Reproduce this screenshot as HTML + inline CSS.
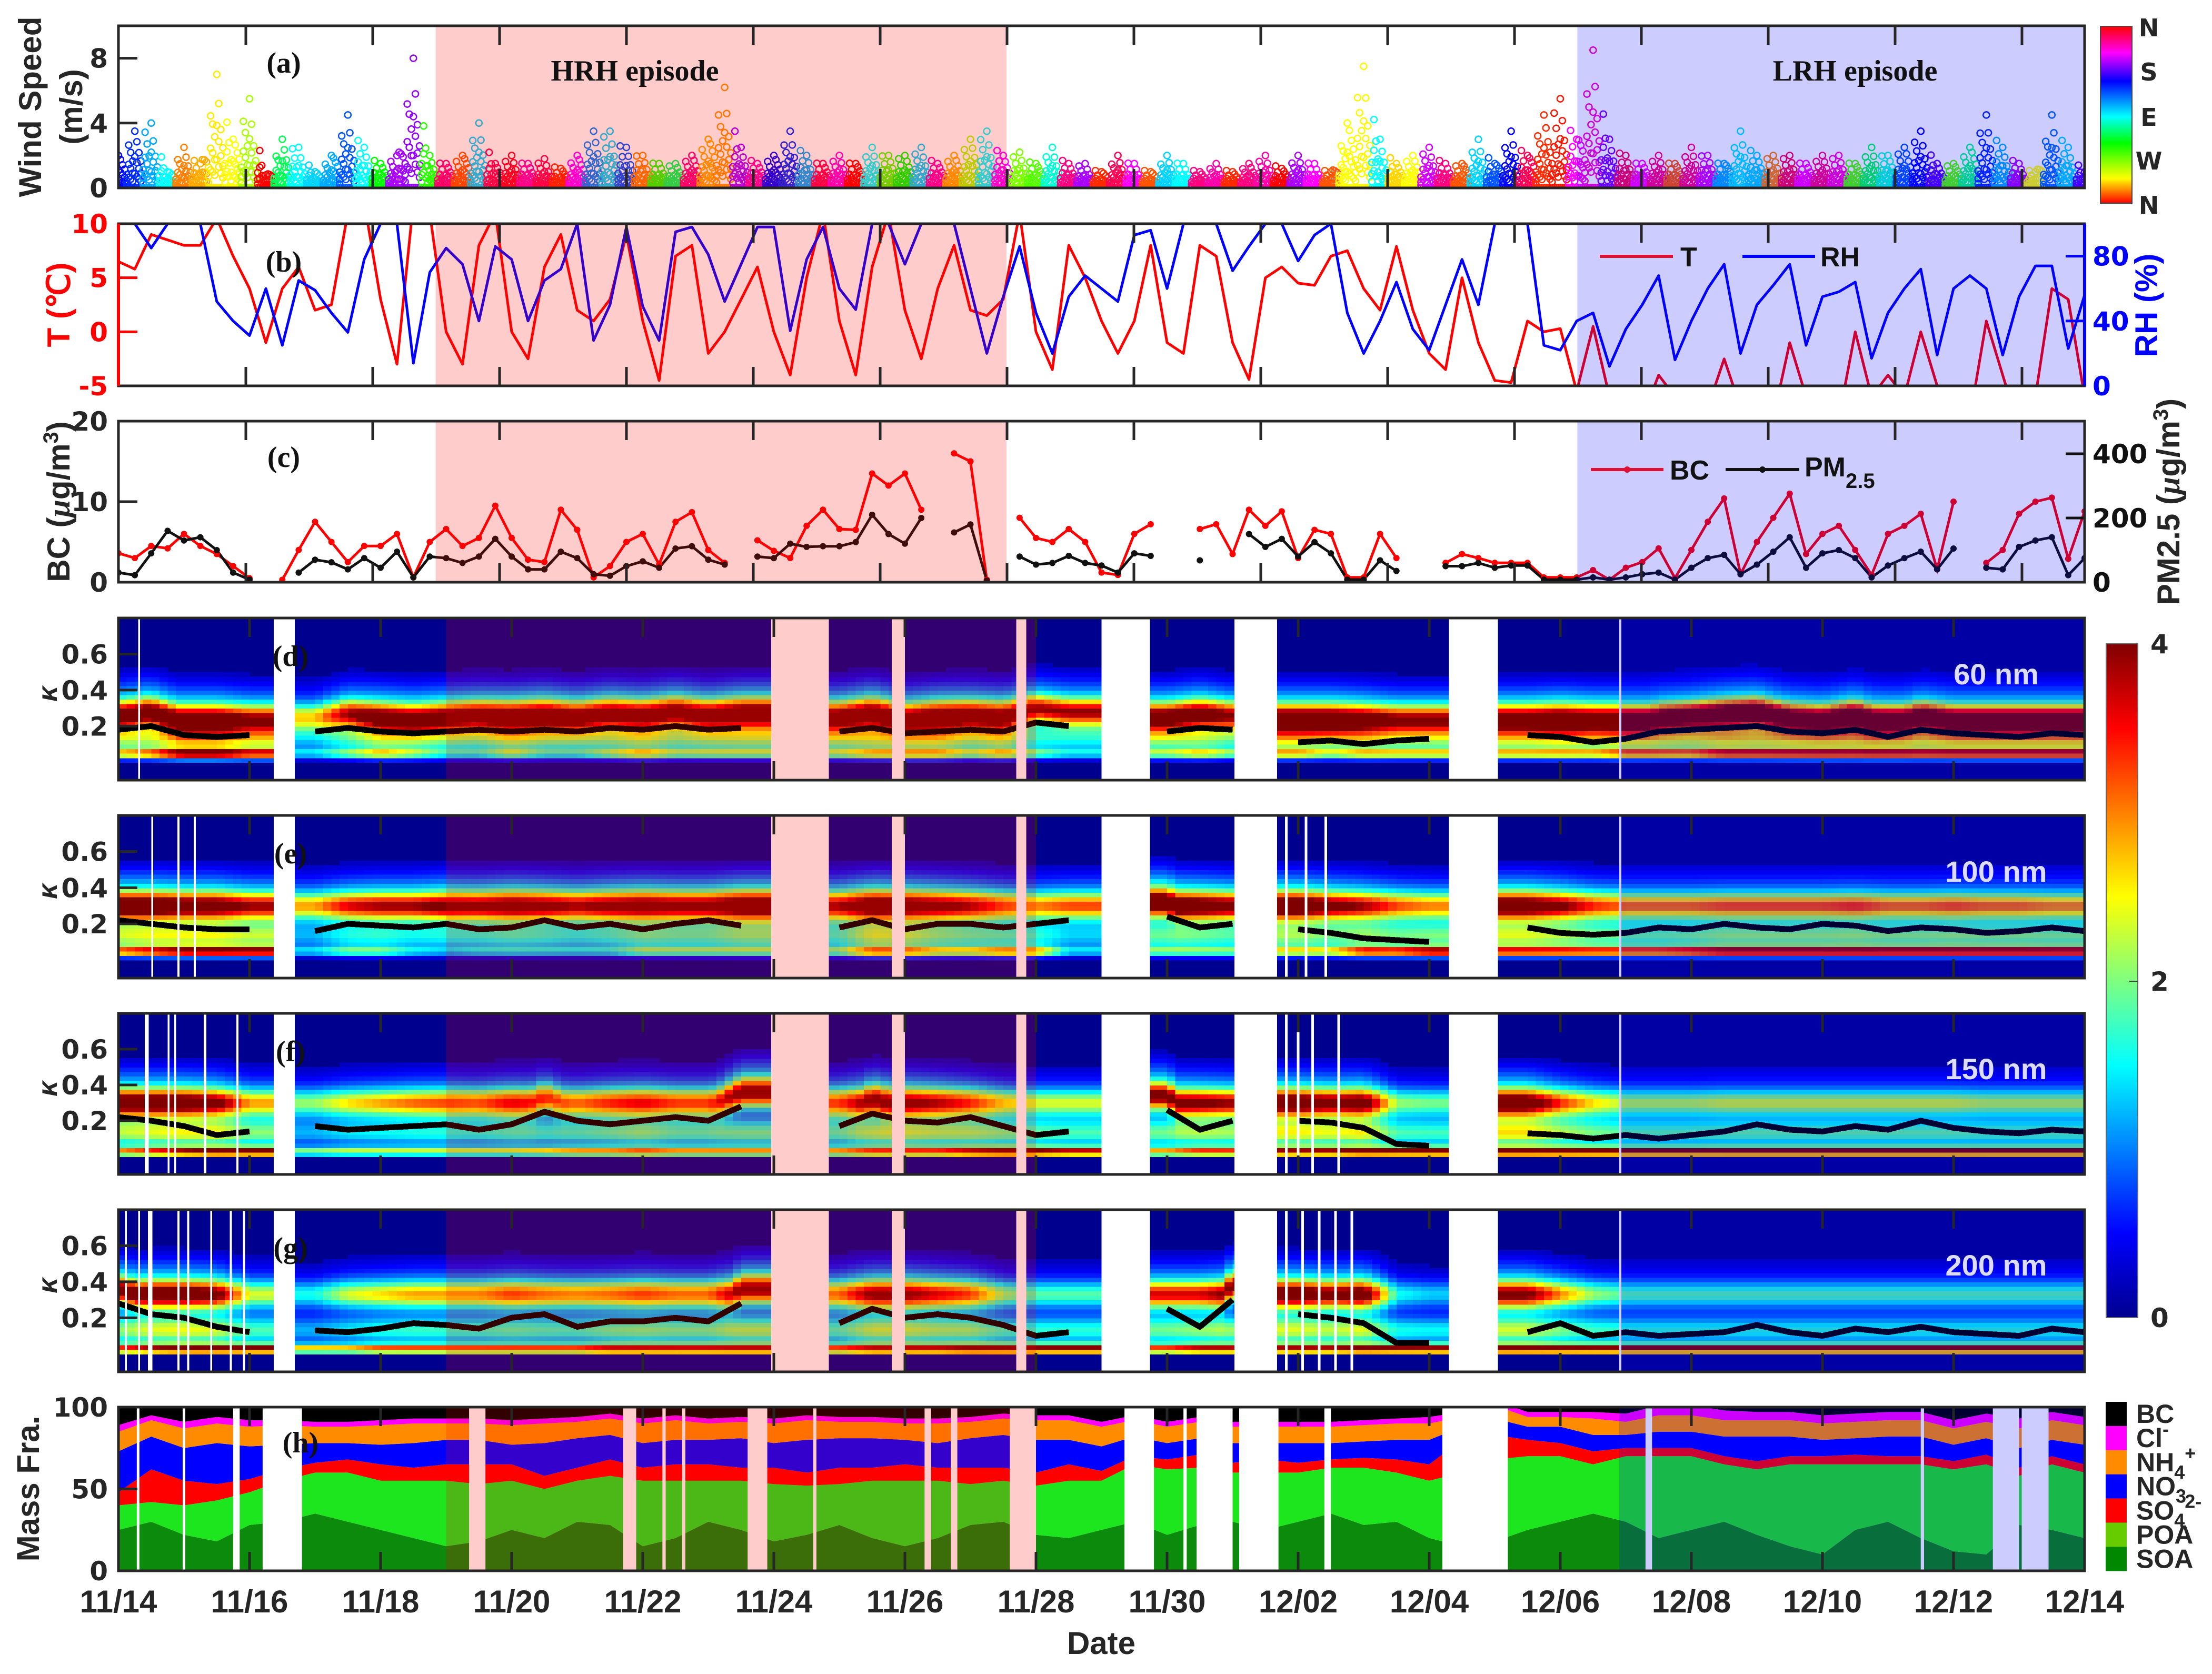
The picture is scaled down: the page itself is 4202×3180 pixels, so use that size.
<!DOCTYPE html>
<html><head><meta charset="utf-8">
<style>
html,body{margin:0;padding:0;background:#fff;}
svg{display:block;}
text{font-family:"Liberation Sans",Arial,sans-serif;font-weight:bold;}
.tk{font-size:50px;fill:#262626;}
.dj{font-family:"DejaVu Sans","Liberation Sans",sans-serif;font-weight:bold;}
.pl{font-family:"Liberation Serif",serif;font-weight:bold;font-size:56px;fill:#111;}
</style></head>
<body>
<svg id="fig" xmlns="http://www.w3.org/2000/svg" width="4202" height="3180" viewBox="0 0 4202 3180">
<defs>
<linearGradient id="gWind" x1="0" y1="0" x2="0" y2="1">
<stop offset="0" stop-color="#ff0000"/><stop offset="0.15" stop-color="#ff00ff"/><stop offset="0.31" stop-color="#0000ff"/><stop offset="0.51" stop-color="#00ffff"/><stop offset="0.66" stop-color="#00ff00"/><stop offset="0.86" stop-color="#ffff00"/><stop offset="1" stop-color="#ff0000"/>
</linearGradient>
<linearGradient id="gJet" x1="0" y1="1" x2="0" y2="0">
<stop offset="0" stop-color="#00008f"/><stop offset="0.125" stop-color="#0000ff"/><stop offset="0.375" stop-color="#00ffff"/><stop offset="0.625" stop-color="#ffff00"/><stop offset="0.875" stop-color="#ff0000"/><stop offset="1" stop-color="#800000"/>
</linearGradient>
</defs>
<g id="data"></g>
<g id="over"></g>
<g id="axes"></g>

<text transform="translate(78,203) rotate(-90)" text-anchor="middle" font-size="60" fill="#262626">Wind Speed</text>
<text transform="translate(156,203) rotate(-90)" text-anchor="middle" font-size="60" fill="#262626">(m/s)</text>
<text transform="translate(132,579) rotate(-90)" text-anchor="middle" font-size="60" fill="#ff0000">T (℃)</text>
<text transform="translate(132,953) rotate(-90)" text-anchor="middle" font-size="60" fill="#262626">BC (<tspan font-style="italic" font-family="Liberation Serif">μ</tspan>g/m<tspan dy="-22" font-size="40">3</tspan><tspan dy="22">)</tspan></text>
<text transform="translate(4098,580) rotate(-90)" text-anchor="middle" font-size="60" fill="#0000ff">RH (%)</text>
<text transform="translate(4140,953) rotate(-90)" text-anchor="middle" font-size="60" fill="#262626">PM2.5 (<tspan font-style="italic" font-family="Liberation Serif">μ</tspan>g/m<tspan dy="-22" font-size="40">3</tspan><tspan dy="22">)</tspan></text>
<text transform="translate(108,1318) rotate(-90)" text-anchor="middle" font-size="52" font-family="Liberation Serif" font-style="italic" font-weight="normal" fill="#262626">κ</text>
<text transform="translate(108,1693) rotate(-90)" text-anchor="middle" font-size="52" font-family="Liberation Serif" font-style="italic" font-weight="normal" fill="#262626">κ</text>
<text transform="translate(108,2068) rotate(-90)" text-anchor="middle" font-size="52" font-family="Liberation Serif" font-style="italic" font-weight="normal" fill="#262626">κ</text>
<text transform="translate(108,2442) rotate(-90)" text-anchor="middle" font-size="52" font-family="Liberation Serif" font-style="italic" font-weight="normal" fill="#262626">κ</text>
<text transform="translate(74,2828) rotate(-90)" text-anchor="middle" font-size="60" fill="#262626">Mass Fra.</text>
<text x="2092" y="3142" text-anchor="middle" font-size="60" fill="#262626">Date</text>

<text class="pl" x="539" y="138" text-anchor="middle">(a)</text>
<text class="pl" x="539" y="516" text-anchor="middle">(b)</text>
<text class="pl" x="539" y="887" text-anchor="middle">(c)</text>
<text class="pl" x="552" y="1265" text-anchor="middle">(d)</text>
<text class="pl" x="552" y="1640" text-anchor="middle">(e)</text>
<text class="pl" x="552" y="2016" text-anchor="middle">(f)</text>
<text class="pl" x="552" y="2389" text-anchor="middle">(g)</text>
<text class="pl" x="571" y="2759" text-anchor="middle">(h)</text>
<text class="pl" x="1206" y="153" text-anchor="middle">HRH episode</text>
<text class="pl" x="3524" y="153" text-anchor="middle">LRH episode</text>
<text x="3792" y="1300" text-anchor="middle" font-size="56" fill="#dcdcff">60 nm</text>
<text x="3792" y="1675" text-anchor="middle" font-size="56" fill="#dcdcff">100 nm</text>
<text x="3792" y="2050" text-anchor="middle" font-size="56" fill="#dcdcff">150 nm</text>
<text x="3792" y="2423" text-anchor="middle" font-size="56" fill="#dcdcff">200 nm</text>

<g>
<line x1="3039" y1="487" x2="3178" y2="487" stroke="#dd1133" stroke-width="6"/>
<text x="3192" y="506" font-size="52" fill="#111">T</text>
<line x1="3310" y1="487" x2="3448" y2="487" stroke="#0000ff" stroke-width="6"/>
<text x="3458" y="506" font-size="52" fill="#111">RH</text>
</g>
<g>
<line x1="3022" y1="892" x2="3160" y2="892" stroke="#dd1133" stroke-width="6"/>
<circle cx="3091" cy="892" r="6" fill="#dd1133"/>
<text x="3172" y="911" font-size="52" fill="#111">BC</text>
<line x1="3278" y1="892" x2="3418" y2="892" stroke="#111" stroke-width="6"/>
<circle cx="3348" cy="892" r="6" fill="#111"/>
<text x="3428" y="905" font-size="52" fill="#111">PM<tspan dy="22" font-size="40">2.5</tspan></text>
</g>

<rect x="3990" y="50" width="60" height="336" fill="url(#gWind)" stroke="#444" stroke-width="2"/>
<g font-size="46" class="dj" fill="#262626" text-anchor="middle">
<text class="dj" x="4082" y="69">N</text>
<text class="dj" x="4082" y="153">S</text>
<text class="dj" x="4082" y="239">E</text>
<text class="dj" x="4082" y="322">W</text>
<text class="dj" x="4082" y="406">N</text>
</g>

<rect x="4001" y="1223" width="60" height="1280" fill="url(#gJet)" stroke="#666" stroke-width="2"/>
<line x1="4045" y1="1864" x2="4061" y2="1864" stroke="#444" stroke-width="2"/>
<text class="dj" x="4085" y="1241" font-size="50" fill="#262626">4</text>
<text class="dj" x="4085" y="1882" font-size="50" fill="#262626">2</text>
<text class="dj" x="4085" y="2521" font-size="50" fill="#262626">0</text>

<g id="hleg"></g>
</svg>

<script>
const windSpeed = [2,3.5,4,1,2.5,1.5,7,3,5.5,0.8, 3,2.5,1,2,4.5,2.5,1.5,2,8,2, 1.5,2,4,1.5,2,1.5,1.8,1.2,2,3.5, 3.5,2.5,2,1.5,1.5,2,3,6.2,2.5,1.5, 2,3.5,2,1.5,2,1.5,2.5,2,2,2.5, 1.5,2,3,3.5,2,2.2,1.5,2.5,1.5,1.5, 1,2,1.5,1,2,1.5,1,1.5,1,1.5, 2,1.2,2,1.5,1,4,7.5,3,1.5,2, 2.5,1.5,1.5,3,1.5,3.5,2,4.5,5.5,3, 8.5,3,2,1.5,2,1.5,2.5,2,1.5,3.5, 2,2,2,1.5,2,2,1.5,2.5,2,2.5, 3.5,1.5,1.5,2.5,4.5,2.5,1.5,1,4.5,2.5, 1];
const windDir = [240,230,200,180,30,40,55,60,80,0, 140,180,190,200,220,180,120,280,275,110, 330,20,190,340,350,320,340,10,300,210, 190,220,30,110,140,330,40,35,280,320, 240,230,200,340,310,0,180,100,120,190, 320,40,80,180,300,90,100,170,330,280, 10,340,300,20,190,180,330,320,10,330, 320,0,280,300,20,60,58,180,50,60, 290,330,20,190,220,240,340,10,5,300, 310,270,340,300,330,20,330,290,200,185, 190,30,340,300,330,310,100,140,170,220, 240,260,100,150,230,200,280,60,215,190, 260];
const tempC = [6.5,5.8,9,8.5,8,8,10.5,7,4,-1, 4,6,2,2.5,11,12,3,-3,12,11, 0,-3,8,11,0,-2.5,6,9,2,1, 3,9,1,-4.5,7,8,-2,0,3,6, 0,-4,5,11,1,-4,6,11,2,-2.5, 4,8,2,1.5,3,11,0,-3.5,8,5, 1,-2,1,8,-1,-2,8,7,-1,-4.4, 5,6,4.5,4.3,7,7.5,4,2,7.9,2, -2,-3.5,5,-1,-4.5,-4.7,1,0,0.3,-5.5, 0.5,-6,-8,-8,-4,-6,-8,-7,-2.5,-7, -9,-8,-1,-6,-9,-8,0,-6,-4,-6, 0,-5,-9,-8,1,-4,-9,-6,4,3, -6];
const relHum = [100,100,85,100,100,100,52,40,31,60, 25,65,59,45,33,78,100,100,14,70, 85,75,40,86,78,40,65,72,100,28, 50,98,49,28,95,98,81,52,75,98, 98,34,78,98,60,47,100,100,75,100, 100,100,60,20,55,86,45,20,55,68, 60,52,93,96,60,100,100,100,71,86, 100,100,77,93,100,45,20,40,64,35, 22,50,78,50,100,100,100,25,22,40, 45,12,35,50,68,16,40,60,75,20, 50,62,75,25,55,58,64,17,45,60, 72,19,60,68,60,19,55,74,74,23, 56];
const bcConc = [3.6,3,4.5,4.2,6,4.5,3.5,2,0.5,null, 0.3,4,7.5,5,2.5,4.5,4.5,6,0.6,5, 6.6,4.5,5.5,9.5,5.5,2.8,2.5,9,6.5,0.6, 2,5,6,2.2,7.5,8.7,4,2.4,null,5.2, 3.9,3,7,9,6.6,6.5,13.5,12,13.5,9, null,16,15,0.3,null,8,5.5,5,6.6,5, 1.2,0.9,6,7.2,null,null,6.6,7.2,3.5,9, 7,8.8,3,6.5,6,0.6,0.6,6,3,null, null,2.4,3.5,3,2.4,2.4,2.4,0.6,0.6,0.6, 1.5,0.3,1.8,2.5,4.2,0.5,4,7.5,10.4,1, 5,8,11,3.5,6,7,4,0.9,6,7, 8.5,1.6,10,null,2.4,4,8.5,10,10.5,2.9, 8.8];
const pmConc = [30,22,90,160,130,140,100,30,8,null, null,30,70,62,40,75,45,95,15,80, 75,60,80,135,80,40,40,95,75,25, 20,50,65,45,105,112,70,55,null,80, 75,120,110,112,112,125,210,150,120,200, null,155,180,5,null,80,55,60,82,60, 52,30,90,82,null,null,68,null,null,150, 110,135,80,125,90,8,8,68,35,null, null,50,50,60,45,52,52,8,8,8, 15,8,15,25,30,8,45,75,85,25, 55,95,140,45,90,100,75,15,52,75, 95,40,105,null,45,40,110,130,140,22, 75];

const kMeanD = [.18,.2,.15,.14,.15,null,.17,.19,.17,.16, .17,.18,.17,.18,.17,.19,.18,.2,.18,.19, null,null,.17,.19,.16,.17,.18,.17,.22,.2, null,null,.17,.19,.18,null,.11,.12,.1,.12, .13,null,null,.15,.14,.11,.13,.17,.18,.19, .2,.17,.16,.18,.14,.18,.16,.15,.14,.16, .15];
const kMeanE = [.22,.2,.18,.17,.17,null,.16,.2,.19,.18, .2,.17,.18,.22,.18,.2,.17,.2,.22,.19, null,null,.18,.22,.17,.2,.2,.18,.2,.22, null,null,.24,.18,.2,null,.17,.15,.12,.11, .1,null,null,.18,.15,.14,.15,.18,.17,.2, .18,.17,.2,.19,.16,.18,.17,.15,.16,.18, .16];
const kMeanF = [.22,.2,.17,.12,.14,null,.17,.15,.16,.17, .18,.15,.18,.25,.2,.18,.2,.22,.2,.28, null,null,.17,.24,.2,.19,.22,.17,.12,.14, null,null,.26,.15,.2,null,.2,.19,.16,.07, .06,null,null,.13,.12,.1,.12,.1,.12,.14, .18,.15,.14,.17,.15,.2,.16,.14,.13,.15, .14];
const kMeanG = [.28,.22,.2,.15,.12,null,.13,.12,.14,.17, .16,.14,.2,.22,.15,.18,.18,.2,.18,.28, null,null,.17,.25,.2,.22,.2,.16,.1,.12, null,null,.25,.15,.3,null,.22,.2,.17,.06, .06,null,null,.12,.17,.1,.12,.1,.11,.12, .16,.12,.1,.14,.12,.15,.12,.11,.1,.14, .12];
const hiModeD = [3.5,3.5,3.5,3.5,3,0,2,3,3.5,3.5, 3.5,3.5,3.8,3.8,3.5,3.5,3.5,3.5,3.5,3.8, 0,0,3.5,3.8,3.5,3.8,3.5,3.5,3,3, 0,0,3.5,3.5,3,0,3.8,3.8,3.5,3, 3,0,0,3.5,3.8,3.5,3.5,3.5,3.5,3.8, 3.8,3.5,3.5,3.8,3.5,3.5,3.5,3.5,3.5,3.5, 3.5];
const loModeD = [2,2.5,3.5,3.5,3,0,1,1.5,2,1.5, 1,1,1.5,1,1,1.5,2,1.5,1.5,1.5, 0,0,1.5,2,2,2,1.5,2,1.5,1, 0,0,1.5,2,1.5,0,2,1.5,2,2, 2,0,0,2,2,2,2.5,2.5,2.5,3, 3,3,3,3,3,3,3,3,3,3, 3];
const hiModeE = [3.8,3.8,3.5,3.5,3,0,2.2,2.8,3,3, 3.3,3.2,3.5,3.3,3,3.3,3.5,3.3,3.3,3.8, 0,0,3,3.8,3.6,3.3,3,2.5,2.3,2.5, 0,0,3.8,3.6,3.3,0,3.8,3.3,3,2.5, 2.3,0,0,3.6,3.2,2.6,2.4,2.4,2.4,2.5, 2.5,2.5,2.5,2.6,2.4,2.4,2.5,2.4,2.4,2.3, 2.3];
const loModeE = [2.5,3,3.5,3.5,3.5,0,1,1.5,1.5,1, 0.8,1,1,1,1,1,1.5,1.5,1.5,1.5, 0,0,1.5,2.5,2.5,2,2,2.5,2.5,1, 0,0,1.5,1.5,1.5,0,2,2,3,3, 3.5,0,0,3,3,3,3,3,3.2,3.5, 3.5,3.5,3.5,3.5,3.5,3.5,3.5,3.5,3.5,3.5, 3.5];
const hiModeF = [3.6,3.6,3.6,3.3,2.2,0,1.6,2,2.2,2.4, 2.5,2.4,2.8,2.6,2.3,2.6,2.8,2.5,2.5,3.3, 0,0,2.5,3.3,3.3,3,2.6,2,1.8,1.8, 0,0,3.3,3.2,3,0,3.6,3.3,3.5,1.6, 1.5,0,0,3.6,2.6,2,1.7,1.7,1.7,1.8, 1.8,1.8,1.8,1.8,1.8,1.8,1.8,1.7,1.7,1.7, 1.7];
const loModeF = [2.5,3,3.5,3.8,3.8,0,1.8,2,2,2, 2,2,2,2.2,2.5,2.5,2.8,2.5,2.5,2.5, 0,0,2.5,3,3,3,3.5,3.8,3.8,3.5, 0,0,2.5,3,3,0,3.5,3.5,3.8,3.8, 3.8,0,0,3.8,3.8,3.8,3.8,3.8,3.8,3.8, 3.8,3.8,3.8,3.8,3.8,3.8,3.8,3.8,3.8,3.8, 3.8];
const hiModeG = [3.3,3.6,3.6,3.3,1.8,0,1.2,1.8,2,2.2, 2.2,2.2,2.5,2.3,2.2,2.3,2.5,2.3,2.3,3.2, 0,0,2.3,3.2,3.2,2.8,2.5,1.6,1.4,1.4, 0,0,2.8,2.8,3.2,0,3.6,3.2,3.5,1.2, 1,0,0,3.2,2.3,1.6,1.4,1.4,1.4,1.4, 1.4,1.4,1.4,1.4,1.4,1.4,1.4,1.4,1.4,1.4, 1.4];
const loModeG = [3,3.5,3.8,3.8,3.8,0,2.5,2.5,3,3, 3,3,3,3,3,3.5,3.5,3.5,3.5,3.5, 0,0,3,3.5,3.5,3.5,3.8,3.8,3.8,3.8, 0,0,3,3.5,3.5,0,3.5,3.5,3.8,3.8, 3.8,0,0,3.8,3.8,3.8,3.8,3.8,3.8,3.8, 3.8,3.8,3.8,3.8,3.8,3.8,3.8,3.8,3.8,3.8, 3.8];
const hiCenters = [0.24, 0.30, 0.30, 0.33];
const loCenters = [0.05, 0.05, 0.03, 0.03];
const kappaGaps = [[2.37,2.69],[9.96,10.84],[11.8,12.0],[13.7,13.85],[15.0,15.74],[17.03,17.68],[20.3,21.05]];
const kappaThinGapsD = [[0.3,0.33],[22.9,22.93]];
const kappaThinGapsE = [[0.5,0.53],[0.9,0.93],[1.15,1.18],[17.8,17.84],[18.1,18.14],[18.4,18.44],[22.9,22.93]];
const kappaThinGapsF = [[0.4,0.46],[0.75,0.78],[0.85,0.88],[1.3,1.34],[1.8,1.83],[17.8,17.84],[17.98,18.02],[18.2,18.24],[18.6,18.64],[22.9,22.93]];
const kappaThinGapsG = [[0.1,0.13],[0.3,0.33],[0.45,0.52],[0.9,0.93],[1.05,1.08],[1.4,1.43],[1.7,1.73],[1.9,1.93],[17.8,17.84],[18.05,18.09],[18.3,18.34],[18.55,18.59],[18.8,18.84],[22.9,22.93]];

const fracSOA = [25,30,22,18,28,30,35,30,25,20, 15,18,25,20,30,28,15,20,30,25, 18,22,28,20,15,20,28,30,22,20, 25,30,22,28,30,25,30,35,28,30, 20,15,18,25,30,35,30,20,25,30, 22,15,10,25,30,20,12,10,28,25, 20];
const fracPOA = [15,12,18,25,20,25,25,30,30,35, 40,35,30,30,25,30,40,35,25,30, 35,30,25,35,40,35,25,25,30,35, 30,35,40,35,30,35,30,28,35,30, 35,45,50,45,40,30,40,50,45,35, 40,50,55,40,35,45,50,55,30,40, 40];
const fracSO4 = [8,20,15,10,8,7,6,8,10,8, 10,12,10,8,8,10,8,10,10,8, 10,8,10,8,10,8,10,8,8,10, 6,5,6,8,6,8,6,5,6,8, 10,20,15,10,8,8,5,5,5,5, 5,5,5,6,5,5,5,6,5,5, 5];
const fracNO3 = [25,20,20,25,20,15,12,10,12,15, 15,15,12,20,18,15,15,15,15,18, 15,20,18,18,15,15,18,20,20,15, 15,12,10,10,12,10,12,10,10,12, 15,8,10,8,10,10,8,10,10,12, 15,12,10,10,12,12,10,10,12,10, 12];
const fracNH4 = [12,10,12,12,12,12,10,10,12,12, 10,10,12,12,10,10,12,12,10,10, 12,12,10,10,10,12,10,10,12,12, 12,10,10,10,10,10,10,10,10,10, 10,6,8,6,6,10,8,10,10,10, 10,10,10,10,10,10,10,10,12,12, 12];
const fracCl = [4,3,4,4,4,3,3,3,3,3, 3,3,3,3,3,3,3,3,3,3, 3,3,3,3,3,3,3,3,3,3, 3,3,3,3,3,3,3,3,3,3, 4,3,3,3,3,4,5,6,6,6, 5,5,5,5,5,5,5,5,6,5, 5];
const compNames = ['SOA','POA','SO4','NO3','NH4','Cl','BC'];
const compColors = ['#0b8a0b','#1ee61e','#ff0000','#0000ff','#ff8c00','#ff00ff','#000000'];
const massGaps = [[0.28,0.32],[0.98,1.02],[1.75,1.85],[2.2,2.8],[5.35,5.6],[7.7,7.9],[8.3,8.35],[8.6,8.65],[9.6,9.9],[10.6,10.65],[12.3,12.4],[12.7,12.8],[13.6,14.0],[15.35,15.8],[16.25,16.3],[16.45,17.0],[17.1,17.7],[18.4,18.5],[20.2,21.2],[23.3,23.4],[27.5,27.55],[28.6,29.0],[29.04,29.45]];
const xTickLabels = ['11/14','11/16','11/18','11/20','11/22','11/24','11/26','11/28','11/30','12/02','12/04','12/06','12/08','12/10','12/12','12/14'];

const NS='http://www.w3.org/2000/svg';
const X0=225, X1=3960, NDAYS=30;
const P = {a:[49,357], b:[425,733], c:[800,1106], d:[1174,1482], e:[1549,1858], f:[1925,2231], g:[2298,2606], h:[2673,2984]};
const xs = t => X0 + t*(X1-X0)/NDAYS;
const lin = (d0,d1,r0,r1) => v => r0 + (v-d0)*(r1-r0)/(d1-d0);
const yWind = lin(0,10,P.a[1],P.a[0]);
const yT = lin(-5,10,P.b[1],P.b[0]);
const yRH = lin(0,100,P.b[1],P.b[0]);
const yBC = lin(0,20,P.c[1],P.c[0]);
const yPM = lin(0,400,P.c[1],862);
const yMass = lin(0,100,P.h[1],P.h[0]);
const dataG = document.getElementById('data');
const overG = document.getElementById('over');
const axesG = document.getElementById('axes');
function mk(tag, attrs, parent){
  const el=document.createElementNS(NS,tag);
  for(const k in attrs) el.setAttribute(k,attrs[k]);
  (parent||dataG).appendChild(el);
  return el;
}
const defs=document.querySelector('defs');
for(const p in P){
  const cp=document.createElementNS(NS,'clipPath');
  cp.setAttribute('id','clip-'+p);
  const r=document.createElementNS(NS,'rect');
  r.setAttribute('x',X0); r.setAttribute('y',P[p][0]); r.setAttribute('width',X1-X0); r.setAttribute('height',P[p][1]-P[p][0]);
  cp.appendChild(r); defs.appendChild(cp);
}
function lineD(vals, dt, yf){
  let d='', pen=false;
  for(let i=0;i<vals.length;i++){
    const v=vals[i];
    if(v===null){pen=false;continue;}
    d+=(pen?'L':'M')+xs(i*dt).toFixed(1)+','+yf(v).toFixed(1);
    pen=true;
  }
  return d;
}
function jet(v){
  v=Math.max(0,Math.min(1,v));
  const c=x=>Math.round(255*Math.max(0,Math.min(1,x)));
  return 'rgb('+c(Math.min(4*v-1.5,-4*v+4.5))+','+c(Math.min(4*v-0.5,-4*v+3.5))+','+c(Math.min(4*v+0.5,-4*v+2.5))+')';
}

// wind
const gA=mk('g',{'clip-path':'url(#clip-a)'});


const mults=[1,0.8,0.6,0.45,0.3,0.9,0.7,0.5];
for(let k=0;k<windSpeed.length;k++){
  const nxt = Math.min(k+1, windSpeed.length-1);
  for(let s=0;s<8;s++){
    const f=s/8;
    const t=(k+f)*0.25;
    const sp=windSpeed[k]*(1-f)+windSpeed[nxt]*f;
    const col='hsl('+(f<0.5?windDir[k]:windDir[nxt])+',100%,50%)';
    const m=mults[s];
    [m, m*0.55, m*0.25].forEach(mm=>{
      const c=mk('circle',{cx:xs(t).toFixed(1),cy:yWind(sp*mm).toFixed(1),r:6,fill:'none',stroke:col,'stroke-width':2.5},gA);
      
      
    });
    const c0=mk('circle',{cx:xs(t).toFixed(1),cy:yWind(0.05).toFixed(1),r:5,fill:'none',stroke:col,'stroke-width':2.5},gA);
    
    
  }
}

// T, RH
const gB=mk('g',{'clip-path':'url(#clip-b)'});


const tLine=mk('path',{d:lineD(tempC,0.25,yT),fill:'none',stroke:'#ff0000','stroke-width':5,'stroke-linejoin':'round'},gB);


const rhLine=mk('path',{d:lineD(relHum,0.25,yRH),fill:'none',stroke:'#0000ff','stroke-width':5,'stroke-linejoin':'round'},gB);



// BC, PM
const gC=mk('g',{'clip-path':'url(#clip-c)'});


const bcLine=mk('path',{d:lineD(bcConc,0.25,yBC),fill:'none',stroke:'#ff0000','stroke-width':5},gC);


const pmLine=mk('path',{d:lineD(pmConc,0.25,yPM),fill:'none',stroke:'#111','stroke-width':5},gC);


for(let k=0;k<bcConc.length;k++){
  if(bcConc[k]!==null){
    const c=mk('circle',{cx:xs(k*0.25),cy:yBC(bcConc[k]),r:6,fill:'#ff0000'},gC);
    
    
  }
  if(pmConc[k]!==null){
    const c=mk('circle',{cx:xs(k*0.25),cy:yPM(pmConc[k]),r:6,fill:'#111'},gC);
    
    
  }
}

// heatmaps
const heatPanels=['d','e','f','g'];
const kMeans=[kMeanD,kMeanE,kMeanF,kMeanG];
const hiModes=[hiModeD,hiModeE,hiModeF,hiModeG];
const loModes=[loModeD,loModeE,loModeF,loModeG];
const thinGaps=[kappaThinGapsD,kappaThinGapsE,kappaThinGapsF,kappaThinGapsG];
function interpArr(arr,t){
  const pos=t*2, i0=Math.floor(pos), i1=Math.min(i0+1,arr.length-1), f=pos-i0;
  let a=arr[i0], b=arr[i1];
  if(a===null||a===0) a=b; if(b===null||b===0) b=a;
  if(a===null) return 0;
  return a*(1-f)+b*f;
}
const G=(x,m,s)=>Math.exp(-((x-m)/s)*((x-m)/s));
heatPanels.forEach((p,pi)=>{
  const [top,bot]=P[p];
  const yK=lin(-0.1,0.8,bot,top);
  const g=mk('g',{'clip-path':'url(#clip-'+p+')','shape-rendering':'crispEdges'});
  
  
  mk('rect',{x:X0,y:top,width:X1-X0,height:bot-top,fill:'#00008f'},g);
  const NC=240, dk=0.025;
  for(let c=0;c<NC;c++){
    const t0=c*NDAYS/NC, tm=t0+NDAYS/NC/2;
    const hi=interpArr(hiModes[pi],tm), lo=interpArr(loModes[pi],tm), km=interpArr(kMeans[pi],tm);
    const hc=Math.max(hiCenters[pi], km+0.08);
    for(let kk=-0.1;kk<0.8-1e-9;kk+=dk){
      const km2=kk+dk/2;
      let v=0.9*hi*G(km2,hc,0.07)+0.42*hi*G(km2,hc+0.03,0.17)+lo*G(km2,loCenters[pi],0.028)+0.3*(hi+lo)*G(km2,0.13,0.08);
      if(km2<0) v*=0.08;
      v=Math.min(4,v);
      if(v<0.25) continue;
      const cell=mk('rect',{x:xs(t0).toFixed(1),y:yK(kk+dk).toFixed(1),width:(xs(NDAYS/NC)-X0+1).toFixed(1),height:(yK(kk)-yK(kk+dk)+1).toFixed(1),fill:jet(v/4)},g);
      
      
    }
  }
  const ml=mk('path',{d:lineD(kMeans[pi],0.5,yK),fill:'none',stroke:'#000','stroke-width':11,'stroke-linejoin':'round'},g);
  
  
  kappaGaps.concat(thinGaps[pi]).forEach(gp=>{
    const r=mk('rect',{x:xs(gp[0]),y:top,width:xs(gp[1])-xs(gp[0]),height:bot-top,fill:'#fff'},g);
    
    
  });
});

// mass fraction
const fracs=[fracSOA,fracPOA,fracSO4,fracNO3,fracNH4,fracCl];
const gH=mk('g',{'clip-path':'url(#clip-h)'});


const nT=fracSOA.length;
let lower=new Array(nT).fill(0);
for(let c=0;c<7;c++){
  const upper=lower.map((l,i)=> c<6 ? l+fracs[c][i] : 100);
  let d='M'+xs(0)+','+yMass(upper[0]);
  for(let i=1;i<nT;i++) d+='L'+xs(i*0.5).toFixed(1)+','+yMass(upper[i]).toFixed(1);
  for(let i=nT-1;i>=0;i--) d+='L'+xs(i*0.5).toFixed(1)+','+yMass(lower[i]).toFixed(1);
  d+='Z';
  const a=mk('path',{d:d,fill:compColors[c]},gH);
  
  
  lower=upper;
}
massGaps.forEach(gp=>{
  const r=mk('rect',{x:xs(gp[0]),y:P.h[0],width:xs(gp[1])-xs(gp[0]),height:P.h[1]-P.h[0],fill:'#fff'},gH);
  
  
});

// shading
function shade(p,t0,t1,col,name){
  const r=mk('rect',{x:xs(t0),y:P[p][0],width:xs(t1)-xs(t0),height:P[p][1]-P[p][0],fill:col},overG);
  
  
}
['a','b','c'].forEach(p=>{ shade(p,4.84,13.55,'rgba(255,0,0,0.2)','hrh-shading'); shade(p,22.26,30,'rgba(0,0,255,0.2)','lrh-shading'); });
['d','e','f','g','h'].forEach(p=>{ shade(p,5.0,14.0,'rgba(255,0,0,0.2)','hrh-shading'); shade(p,22.9,30,'rgba(0,0,255,0.2)','lrh-shading'); });

// axes
function frame(p){
  const r=mk('rect',{x:X0,y:P[p][0],width:X1-X0,height:P[p][1]-P[p][0],fill:'none',stroke:'#262626','stroke-width':5},axesG);
  
  
}
function ytick(y,label,col,cls,xr){
  const l=mk('line',{x1:X0,y1:y,x2:X0+36,y2:y,stroke:col,'stroke-width':5},axesG);
  
  
  const tx=mk('text',{x:xr||205,y:y+18,'text-anchor':'end','font-size':50,fill:col,class:cls||''},axesG);
  tx.textContent=label;
  
  
}
function rtick(y,label,col){
  const l=mk('line',{x1:X1-36,y1:y,x2:X1,y2:y,stroke:col,'stroke-width':5},axesG);
  
  
  const tx=mk('text',{x:3975,y:y+18,'text-anchor':'start','font-size':50,fill:col,class:'dj'},axesG);
  tx.textContent=label;
  
  
}
['a','b','c'].forEach(p=>{
  for(let k=0;k<15;k++){
    const x=467+241*k;
    const l1=mk('line',{x1:x,y1:P[p][0],x2:x,y2:P[p][0]+36,stroke:'#262626','stroke-width':5},axesG);
    
    
    const l2=mk('line',{x1:x,y1:P[p][1]-36,x2:x,y2:P[p][1],stroke:'#262626','stroke-width':5},axesG);
    
    
  }
});
['d','e','f','g','h'].forEach(p=>{
  for(let t=2;t<30;t+=2){
    const x=xs(t);
    const l1=mk('line',{x1:x,y1:P[p][0],x2:x,y2:P[p][0]+36,stroke:'#262626','stroke-width':5},axesG);
    
    
    const l2=mk('line',{x1:x,y1:P[p][1]-36,x2:x,y2:P[p][1],stroke:'#262626','stroke-width':5},axesG);
    
    
  }
});
xTickLabels.forEach((lab,i)=>{
  const tx=mk('text',{x:xs(i*2),y:3063,'text-anchor':'middle','font-size':60,fill:'#262626'},axesG);
  tx.textContent=lab;
  
  
});
[0,4,8].forEach(v=>ytick(yWind(v),String(v),'#262626','dj',205));
[10,5,0,-5].forEach(v=>ytick(yT(v),String(v),'#ff0000','dj',205));
[80,40,0].forEach(v=>rtick(yRH(v),String(v),'#0000ff'));
[20,10,0].forEach(v=>ytick(yBC(v),String(v),'#262626','dj',205));
[400,200,0].forEach(v=>rtick(yPM(v),String(v),'#111'));
heatPanels.forEach(p=>{
  const yK=lin(-0.1,0.8,P[p][1],P[p][0]);
  [0.6,0.4,0.2].forEach(v=>ytick(yK(v),v.toFixed(1),'#262626','dj',205));
});
[100,50,0].forEach(v=>ytick(yMass(v),String(v),'#262626','dj',205));
Object.keys(P).forEach(frame);
const la=mk('line',{x1:X0,y1:P.b[0],x2:X0,y2:P.b[1],stroke:'#ff0000','stroke-width':6},axesG);


const ra=mk('line',{x1:X1,y1:P.b[0],x2:X1,y2:P.b[1],stroke:'#0000ff','stroke-width':6},axesG);



// composition legend
const hleg=document.getElementById('hleg');
const legNames=['BC','Cl','NH','NO','SO','POA','SOA'];
const legCols=['#000000','#ff00ff','#ff8c00','#0000ff','#ff0000','#66cc00','#008800'];
const legSup=['','-','+','','2-','',''];
const legSub=['','','4','3','4','',''];
legNames.forEach((n,i)=>{
  const y0=2663+i*45.9;
  const r=mk('rect',{x:4000,y:y0,width:40,height:46,fill:legCols[i]},hleg);
  
  
  const tx=mk('text',{x:4058,y:y0+40,'font-size':50,fill:'#262626'},hleg);
  
  
  tx.textContent=n;
  if(legSub[i]){const s=document.createElementNS(NS,'tspan');s.setAttribute('font-size','36');s.setAttribute('dy','14');s.textContent=legSub[i];tx.appendChild(s);}
  if(legSup[i]){const s=document.createElementNS(NS,'tspan');s.setAttribute('font-size','36');s.setAttribute('dy',legSub[i]?'-36':'-22');s.textContent=legSup[i];tx.appendChild(s);}
});
</script>
</body></html>
